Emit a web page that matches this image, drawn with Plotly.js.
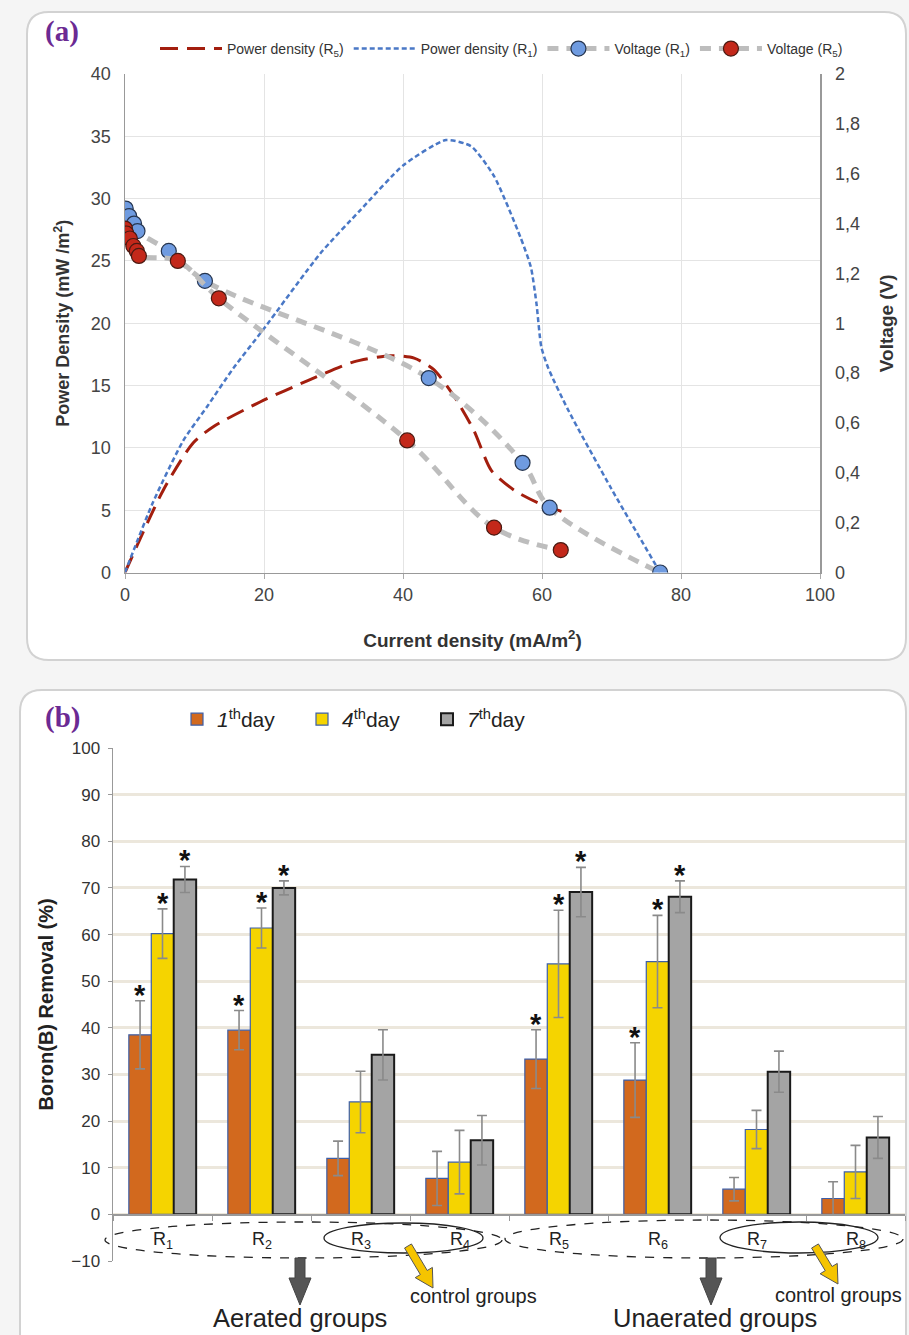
<!DOCTYPE html>
<html><head><meta charset="utf-8">
<script src="https://cdn.plot.ly/plotly-3.0.1.min.js"></script>
<style>html,body{margin:0;padding:0;background:#f5f5f5}#chart{width:909px;height:1335px}</style>
</head><body><div id="chart"></div>
<script>
// ---------- Panel (a) data ----------
const powerR5X = [0, 5.5, 9.8, 12.7, 19.5, 26.3, 32.9, 38.2, 41.6, 44.4, 47.4, 50.2, 52.7, 56.0, 59.4, 62.8];
const powerR5Y = [0, 6.6, 10.4, 11.7, 13.7, 15.4, 16.9, 17.4, 17.2, 16.3, 14.1, 11.4, 8.2, 6.6, 5.6, 4.9];
const powerR1X = [0, 4.0, 8.4, 11.8, 15.6, 19.9, 28.1, 33.9, 40.1, 46.2, 49.8, 53.1, 56.9, 58.4, 59.2, 59.9, 60.9, 63.8, 70, 77];
const powerR1Y = [0, 5.6, 10.6, 13.3, 16.4, 19.5, 25.6, 29.1, 32.7, 34.7, 34.2, 31.8, 26.9, 24.5, 21.6, 18.1, 16.4, 13.0, 6.7, 0];
const voltR1X = [0.1, 0.6, 1.3, 1.8, 6.3, 11.5, 43.7, 57.2, 61.1, 77];
const voltR1Y = [1.46, 1.43, 1.40, 1.37, 1.29, 1.17, 0.78, 0.44, 0.26, 0];
const voltR5X = [0, 0.2, 0.7, 1.2, 1.7, 2.0, 7.6, 13.5, 40.6, 53.1, 62.7];
const voltR5Y = [1.38, 1.36, 1.34, 1.31, 1.29, 1.27, 1.25, 1.10, 0.53, 0.18, 0.09];

// ---------- Panel (b) data ----------
const reactors = ['R1','R2','R3','R4','R5','R6','R7','R8'];
const reactorLabels = ['R<sub>1</sub>','R<sub>2</sub>','R<sub>3</sub>','R<sub>4</sub>','R<sub>5</sub>','R<sub>6</sub>','R<sub>7</sub>','R<sub>8</sub>'];
const day1 = [38.5, 39.5, 12.0, 7.7, 33.3, 28.8, 5.4, 3.4];
const day1Err = [7.3, 4.2, 3.7, 5.8, 6.3, 8.0, 2.5, 3.6];
const day4 = [60.2, 61.4, 24.1, 11.2, 53.7, 54.2, 18.2, 9.1];
const day4Err = [5.3, 4.3, 6.6, 6.8, 11.5, 9.9, 4.1, 5.7];
const day7 = [71.8, 70.0, 34.2, 15.9, 69.1, 68.1, 30.6, 16.5];
const day7Err = [2.8, 1.5, 5.4, 5.3, 5.3, 3.4, 4.4, 4.5];
const sig1 = [1,1,0,0,1,1,0,0];
const sig4 = [1,1,0,0,1,1,0,0];
const sig7 = [1,1,0,0,1,1,0,0];
const dayNames = ['<i>1</i><sup>th</sup>day', '<i>4</i><sup>th</sup>day', '<i>7</i><sup>th</sup>day'];

// ---------- geometry helpers (pixel -> paper) ----------
const W = 909, H = 1335;
const px = v => v / W;
const py = v => 1 - v / H;
const FONT = 'Liberation Sans, Arial, sans-serif';

function rrect(x0, y0, x1, y1, r) {
  const P = (x, y) => px(x).toFixed(5) + ',' + py(y).toFixed(5);
  return 'M' + P(x0 + r, y0) + ' L' + P(x1 - r, y0) + ' Q' + P(x1, y0) + ' ' + P(x1, y0 + r) +
    ' L' + P(x1, y1 - r) + ' Q' + P(x1, y1) + ' ' + P(x1 - r, y1) +
    ' L' + P(x0 + r, y1) + ' Q' + P(x0, y1) + ' ' + P(x0, y1 - r) +
    ' L' + P(x0, y0 + r) + ' Q' + P(x0, y0) + ' ' + P(x0 + r, y0) + ' Z';
}
function poly(pts) {
  return 'M' + pts.map(p => px(p[0]).toFixed(5) + ',' + py(p[1]).toFixed(5)).join(' L') + ' Z';
}
function blockArrow(x0, y0, x1, y1, sw, hw, hl) {
  const dx = x1 - x0, dy = y1 - y0, L = Math.hypot(dx, dy);
  const ux = dx / L, uy = dy / L, nx = -uy, ny = ux;
  const bx = x1 - ux * hl, by = y1 - uy * hl;
  return poly([
    [x0 + nx * sw, y0 + ny * sw], [bx + nx * sw, by + ny * sw], [bx + nx * hw, by + ny * hw],
    [x1, y1], [bx - nx * hw, by - ny * hw], [bx - nx * sw, by - ny * sw], [x0 - nx * sw, y0 - ny * sw]
  ]);
}

// ---------- traces ----------
const traces = [];
traces.push({x: powerR5X, y: powerR5Y, type: 'scatter', mode: 'lines', name: 'Power density (R<sub>5</sub>)',
  line: {color: '#a31e0e', width: 3, dash: '18px,9px', shape: 'spline', smoothing: 0.7}, xaxis: 'x', yaxis: 'y', legend: 'legend'});
traces.push({x: powerR1X, y: powerR1Y, type: 'scatter', mode: 'lines', name: 'Power density (R<sub>1</sub>)',
  line: {color: '#4a78c6', width: 2.5, dash: '5px,3px', shape: 'spline', smoothing: 0.6}, xaxis: 'x', yaxis: 'y', legend: 'legend'});
traces.push({x: voltR1X, y: voltR1Y, type: 'scatter', mode: 'lines+markers', name: 'Voltage (R<sub>1</sub>)',
  line: {color: '#bdbdbd', width: 5, dash: '11px,8px', shape: 'spline', smoothing: 1},
  marker: {color: '#6f9be0', size: 15, line: {color: '#26354f', width: 1.2}}, xaxis: 'x', yaxis: 'y2', legend: 'legend'});
traces.push({x: voltR5X, y: voltR5Y, type: 'scatter', mode: 'lines+markers', name: 'Voltage (R<sub>5</sub>)',
  line: {color: '#bdbdbd', width: 5, dash: '11px,8px', shape: 'spline', smoothing: 1},
  marker: {color: '#c3281a', size: 15, line: {color: '#4a1a12', width: 1.2}}, xaxis: 'x', yaxis: 'y2', legend: 'legend'});

const dayVals = [day1, day4, day7], dayErrs = [day1Err, day4Err, day7Err], sigs = [sig1, sig4, sig7];
const fills = ['#d2691e', '#f5d400', '#a4a4a4'];
const edges = ['#3d5fa8', '#3d5fa8', '#1a1a1a'];
for (let k = 0; k < 3; k++) {
  traces.push({x: reactors, y: dayVals[k], type: 'bar', name: dayNames[k], xaxis: 'x2', yaxis: 'y3', legend: 'legend2',
    marker: {color: fills[k], line: {color: edges[k], width: k === 2 ? 2 : 1.2}},
    error_y: {type: 'data', array: dayErrs[k], visible: true, color: '#8a8a8a', thickness: 1.6, width: 5}});
}

// ---------- annotations ----------
const ann = [];
const txt = (text, x, y, size, extra) => Object.assign({text: text, x: px(x), y: py(y), xref: 'paper', yref: 'paper',
  showarrow: false, xanchor: 'center', yanchor: 'middle', font: {family: FONT, size: size, color: '#222'}}, extra || {});
ann.push(txt('<b>(a)</b>', 62, 31, 28, {font: {family: 'Liberation Serif, Times New Roman, serif', size: 29, color: '#6b2a93'}}));
ann.push(txt('<b>(b)</b>', 62, 717, 28, {font: {family: 'Liberation Serif, Times New Roman, serif', size: 29, color: '#6b2a93'}}));
const barW = (1 - 0.32) / 3;
for (let k = 0; k < 3; k++) {
  for (let i = 0; i < reactors.length; i++) {
    if (sigs[k][i]) {
      ann.push({text: '<b>*</b>', x: i + (k - 1) * barW, y: dayVals[k][i] + dayErrs[k][i], xref: 'x2', yref: 'y3',
        showarrow: false, xanchor: 'center', yanchor: 'middle', yshift: 6, font: {family: FONT, size: 29, color: '#111'}});
    }
  }
}
for (let i = 0; i < reactors.length; i++) {
  ann.push({text: reactorLabels[i], x: reactors[i], y: py(1240), xref: 'x2', yref: 'paper', showarrow: false,
    xanchor: 'center', yanchor: 'middle', font: {family: FONT, size: 18, color: '#222'}});
}
ann.push(txt('Aerated groups', 300, 1318, 25.5));
ann.push(txt('Unaerated groups', 715, 1318, 25.5));
ann.push(txt('control groups', 473, 1296, 20));
ann.push(txt('control groups', 838, 1295, 20));

// ---------- shapes ----------
const shapes = [];
shapes.push({type: 'path', path: rrect(27, 12, 906, 660, 22), xref: 'paper', yref: 'paper', layer: 'below',
  fillcolor: '#ffffff', line: {color: '#d2d2d2', width: 2}});
shapes.push({type: 'path', path: rrect(20, 690, 906, 1360, 22), xref: 'paper', yref: 'paper', layer: 'below',
  fillcolor: '#ffffff', line: {color: '#d2d2d2', width: 2}});
const ell = [[105, 1222, 502, 1258, 'dash'], [324, 1223, 483, 1253, 'solid'], [505, 1220, 903, 1258, 'dash'], [720, 1222, 878, 1253, 'solid']];
ell.forEach(e => shapes.push({type: 'circle', xref: 'paper', yref: 'paper', x0: px(e[0]), x1: px(e[2]), y0: py(e[3]), y1: py(e[1]),
  line: {color: '#222', width: 1.3, dash: e[4]}}));
[300, 711].forEach(cx => shapes.push({type: 'path', xref: 'paper', yref: 'paper', fillcolor: '#555555', line: {color: '#444', width: 1},
  path: poly([[cx - 5, 1258], [cx + 5, 1258], [cx + 5, 1278], [cx + 11, 1278], [cx, 1305], [cx - 11, 1278], [cx - 5, 1278]])}));
[[408, 1246, 433, 1288], [815, 1246, 838, 1284]].forEach(a => shapes.push({type: 'path', xref: 'paper', yref: 'paper',
  fillcolor: '#f5c400', line: {color: '#555', width: 1}, path: blockArrow(a[0], a[1], a[2], a[3], 4, 10, 18)}));

// ---------- layout ----------
const tickFont = {family: FONT, size: 18, color: '#444'};
const layout = {
  width: W, height: H, margin: {l: 0, r: 0, t: 0, b: 0},
  paper_bgcolor: '#f5f5f5', plot_bgcolor: '#ffffff', separators: ',.',
  font: {family: FONT, color: '#333'},
  barmode: 'group', bargap: 0.32, bargroupgap: 0,
  xaxis: {domain: [px(125), px(820)], range: [0, 100], dtick: 20, anchor: 'y', showline: true, linecolor: '#999', linewidth: 1.5,
    ticks: 'outside', ticklen: 5, tickcolor: '#aaa', gridcolor: '#e4e4e4', zeroline: false, tickfont: tickFont, automargin: false,
    title: {text: '<b>Current density (mA/m<sup>2</sup>)</b>', font: {family: FONT, size: 19, color: '#333'}, standoff: 30}},
  yaxis: {domain: [py(572.5), py(74)], range: [0, 40], dtick: 5, anchor: 'x', showline: true, linecolor: '#999', linewidth: 1.5,
    gridcolor: '#e4e4e4', zeroline: false, tickfont: tickFont, automargin: false, ticklabelstandoff: 9,
    title: {text: '<b>Power Density (mW /m<sup>2</sup>)</b>', font: {family: FONT, size: 18, color: '#333'}, standoff: 16}},
  yaxis2: {overlaying: 'y', side: 'right', range: [0, 2], dtick: 0.2, anchor: 'x', showline: true, linecolor: '#999', linewidth: 1.5,
    showgrid: false, zeroline: false, tickfont: tickFont, automargin: false, ticklabelstandoff: 10,
    title: {text: '<b>Voltage (V)</b>', font: {family: FONT, size: 19, color: '#333'}, standoff: 20}},
  xaxis2: {domain: [px(113), px(905)], type: 'category', anchor: 'free', position: py(1214), showline: true, linecolor: '#999',
    linewidth: 1.5, ticks: 'outside', tickson: 'boundaries', ticklen: 5, tickcolor: '#999', showticklabels: false, showgrid: false,
    automargin: false},
  yaxis3: {domain: [py(1261), py(748)], range: [-10, 100], dtick: 10, anchor: 'x2', showline: true, linecolor: '#999', linewidth: 1.5,
    ticks: 'outside', ticklen: 4, tickcolor: '#999', gridcolor: '#ece7dc', gridwidth: 3, zeroline: false,
    tickfont: {family: FONT, size: 17, color: '#333'}, automargin: false, ticklabelstandoff: 4,
    title: {text: '<b>Boron(B) Removal (%)</b>', font: {family: FONT, size: 20, color: '#222'}, standoff: 12}},
  legend: {orientation: 'h', x: px(155), y: py(33), xanchor: 'left', yanchor: 'top', bgcolor: 'rgba(0,0,0,0)',
    itemwidth: 62, font: {family: FONT, size: 14, color: '#333'}, tracegroupgap: 0},
  legend2: {orientation: 'h', x: px(177), y: py(699), xanchor: 'left', yanchor: 'top', bgcolor: 'rgba(0,0,0,0)',
    itemwidth: 30, entrywidth: 80, font: {family: FONT, size: 21, color: '#222'}},
  annotations: ann, shapes: shapes
};
Plotly.newPlot('chart', traces, layout, {displayModeBar: false, staticPlot: true});
</script></body></html>
